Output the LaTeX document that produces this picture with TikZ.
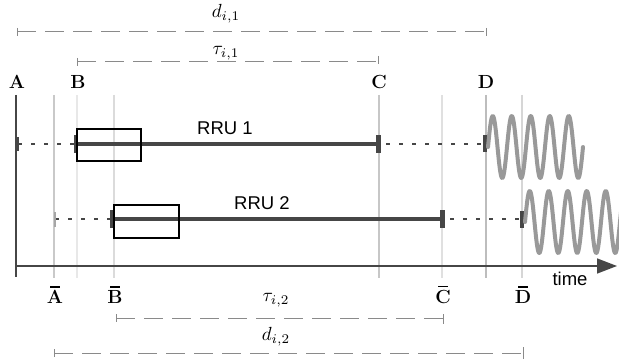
\documentclass[tikz,border=0pt]{standalone}
\usepackage{graphicx}
\usepackage{fontspec}
\newfontfamily\sansf{Liberation Sans}
\usetikzlibrary{arrows.meta}
\definecolor{dk}{HTML}{464646}
\definecolor{wv}{HTML}{999999}
\definecolor{dsh}{HTML}{8A8A8A}
\newcommand{\mlab}[1]{\scalebox{1.9}{$#1$}}
\tikzset{
  lbl/.style={font=\fontsize{19}{22}\selectfont\bfseries, inner sep=0pt},
  rru/.style={font=\sansf\fontsize{18.5}{20}\selectfont, inner sep=0pt},
  mlbl/.style={inner sep=0pt},
  vline/.style={line width=2pt},
  dim/.style={dsh, line width=1pt, dash pattern=on 19pt off 9pt},
  dimtick/.style={dsh, line width=1pt},
  bar/.style={dk, line width=4pt},
  dotl/.style={dk, line width=2pt, dash pattern=on 4pt off 9pt},
  tk/.style={dk, line width=4pt},
  boxs/.style={draw=black, line width=1.5pt},
  wave/.style={wv, line width=4pt, line cap=round, line join=round},
  axis/.style={dk, line width=1.5pt},
  macron/.style={black, line width=1.8pt}
}
\begin{document}
\begin{tikzpicture}[x=1pt,y=-1pt]
\useasboundingbox (0,0) rectangle (619,361);
% vertical guide lines
\draw[vline, color=black!21] (54,95) -- (54,278);
\draw[vline, color=black!9] (77,95) -- (77,278);
\draw[vline, color=black!14] (114,95) -- (114,278);
\draw[vline, color=black!22] (379,95) -- (379,278);
\draw[vline, color=black!12] (442,95) -- (442,278);
\draw[vline, color=black!26] (486,95) -- (486,278);
\draw[vline, color=black!16] (522,95) -- (522,278);
% axes
\coordinate (o) at (16,266);
\coordinate (top) at (16,95);
\coordinate (bot) at (16,277);
\coordinate (tend) at (617,266);
\draw[axis] (top) -- (bot);
\draw[axis, -{Triangle[length=20pt,width=15pt]}] (o) -- (tend);
\node[rru] (time) at (570,279) {time};
% top labels
\node[lbl] (A) at (17,82) {A};
\node[lbl] (B) at (78,82) {B};
\node[lbl] (C) at (379,82) {C};
\node[lbl] (D) at (486,82) {D};
\node[lbl] (Ab) at (55,297) {A};
\node[lbl] (Bb) at (115,297) {B};
\node[lbl] (Cb) at (443,297) {C};
\node[lbl] (Db) at (523,297) {D};
\foreach \n in {Ab,Bb,Cb,Db}{
  \draw[macron] ([xshift=-5pt,yshift=3.5pt]\n.north) -- ([xshift=5pt,yshift=3.5pt]\n.north);
}
% dimension lines
\coordinate (d1a) at (17,32); \coordinate (d1b) at (486,32);
\draw[dim] (d1a) -- (d1b);
\draw[dimtick] (17,28) -- (17,36);
\draw[dimtick] (486,28) -- (486,36);
\node[mlbl] (d1) at (226,14) {\mlab{d_{i,1}}};
\coordinate (t1a) at (77,62); \coordinate (t1b) at (378,62);
\draw[dim] (t1a) -- (t1b);
\draw[dimtick] (77,58) -- (77,66);
\draw[dimtick] (378,56) -- (378,64);
\node[mlbl] (t1) at (226,53) {\mlab{\tau_{i,1}}};
\coordinate (t2a) at (116,318); \coordinate (t2b) at (443,318);
\draw[dim] (t2a) -- (t2b);
\draw[dimtick] (116,314) -- (116,322);
\draw[dimtick] (443,314) -- (443,324);
\node[mlbl] (t2) at (276,300) {\mlab{\tau_{i,2}}};
\coordinate (d2a) at (54,353); \coordinate (d2b) at (523,353);
\draw[dim] (d2a) -- (d2b);
\draw[dimtick] (54,349) -- (54,357);
\draw[dimtick] (523,347) -- (523,359);
\node[mlbl] (d2) at (276,337) {\mlab{d_{i,2}}};
% RRU 1
\coordinate (r1s) at (18,144);
\coordinate (r1b) at (76,144);
\coordinate (r1c) at (379,144);
\coordinate (r1d) at (485,144);
\draw[dotl] (r1s) -- (r1b);
\draw[dk, line width=2pt] (18,137) -- (18,151);
\draw[bar] (r1b) -- (r1c);
\draw[tk] (76,135) -- (76,153);
\draw[tk, line width=5pt] (378,135) -- (378,153);
\draw[dotl] ([xshift=7pt]r1c) -- (r1d);
\draw[tk] (485,135) -- (485,152);
\node[boxs, minimum width=64pt, minimum height=32pt, inner sep=0pt, anchor=north west] (box1) at (76,128) {};
\node[rru] (rru1) at (225,128) {RRU 1};
\draw[wave] plot[domain=0:95, samples=240] ({488+\x},{147-31*sin(\x/19*360)});
% RRU 2
\coordinate (r2s) at (55,219);
\coordinate (r2b) at (113,219);
\coordinate (r2c) at (443,219);
\coordinate (r2d) at (521,219);
\draw[dotl] (r2s) -- (r2b);
\draw[black!35, line width=2pt] (55,212) -- (55,227);
\draw[bar] (r2b) -- (r2c);
\draw[tk] (112,210) -- (112,228);
\draw[tk, line width=5pt] (442,210) -- (442,228);
\draw[dotl] ([xshift=7pt]r2c) -- (r2d);
\draw[tk] (522,211) -- (522,228);
\node[boxs, minimum width=65pt, minimum height=33pt, inner sep=0pt, anchor=north west] (box2) at (113,204) {};
\node[rru] (rru2) at (262,203) {RRU 2};
\draw[wave] plot[domain=0:96, samples=240] ({525+\x},{222-31*sin(\x/19*360)});
\end{tikzpicture}
\end{document}
